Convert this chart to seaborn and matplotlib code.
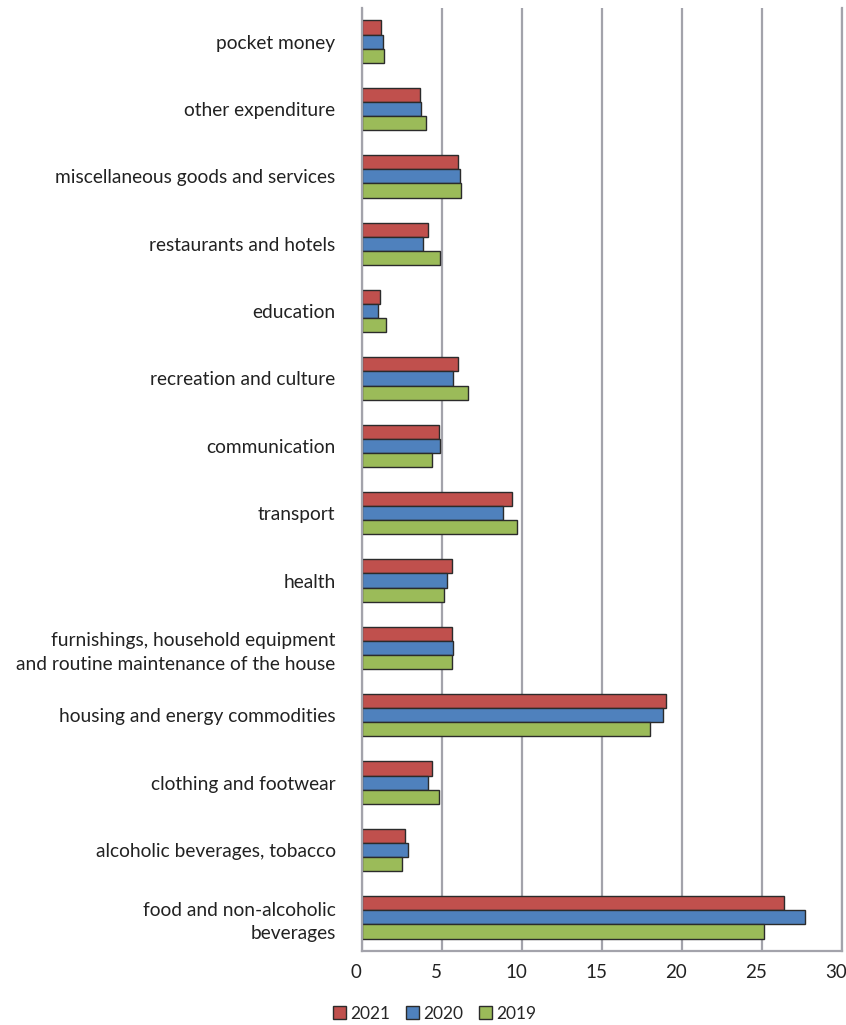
import matplotlib
matplotlib.use("Agg")
import matplotlib.pyplot as plt
import matplotlib.transforms as mtransforms
import seaborn as sns
import pandas as pd

categories = [
    "pocket money",
    "other expenditure",
    "miscellaneous goods and services",
    "restaurants and hotels",
    "education",
    "recreation and culture",
    "communication",
    "transport",
    "health",
    "furnishings, household equipment\nand routine maintenance of the house",
    "housing and energy commodities",
    "clothing and footwear",
    "alcoholic beverages, tobacco",
    "food and non-alcoholic\nbeverages",
]
years = ["2021", "2020", "2019"]
v2021 = [1.2, 3.6, 6.0, 4.1, 1.1, 6.0, 4.8, 9.4, 5.6, 5.6, 19.0, 4.4, 2.7, 26.4]
v2020 = [1.3, 3.7, 6.1, 3.8, 1.0, 5.7, 4.9, 8.8, 5.3, 5.7, 18.8, 4.1, 2.9, 27.7]
v2019 = [1.4, 4.0, 6.2, 4.9, 1.5, 6.6, 4.4, 9.7, 5.1, 5.6, 18.0, 4.8, 2.5, 25.1]
colors = ["#C0504D", "#4F81BD", "#9BBB59"]
xticks = [0, 5, 10, 15, 20, 25, 30]

rows = []
for yr, vals in zip(years, [v2021, v2020, v2019]):
    for c, v in zip(categories, vals):
        rows.append({"category": c, "year": yr, "value": v})
df = pd.DataFrame(rows)

sns.set_style("white")
plt.rcParams["font.family"] = ["Lato", "DejaVu Sans"]

fig = plt.figure(figsize=(8.46, 10.25), dpi=100)
ax = fig.add_axes([362 / 846, 1 - 951 / 1025, 480 / 846, 943 / 1025])

sns.barplot(data=df, x="value", y="category", hue="year", order=categories,
            hue_order=years, palette=colors, saturation=1, orient="h", width=0.63,
            edgecolor="#2b2b2b", linewidth=1.0, ax=ax, legend=True)

ax.set_xlim(0, 30)
ax.set_xticks(xticks)
ax.set_xticklabels([str(t) for t in xticks], fontsize=13.5, color="#222222")
ax.set_xlabel("")
ax.set_ylabel("")
ax.xaxis.grid(True, color="#a3a3ab", linewidth=1.6)
ax.yaxis.grid(False)
ax.set_axisbelow(True)
for s in ["left", "bottom", "right"]:
    ax.spines[s].set_visible(True)
    ax.spines[s].set_color("#a3a3ab")
    ax.spines[s].set_linewidth(1.6)
ax.spines["top"].set_visible(False)
ax.tick_params(axis="both", length=0)
ax.tick_params(axis="y", pad=19, labelsize=13.8, labelcolor="#222222")
ax.tick_params(axis="x", pad=9)
for lbl in ax.get_yticklabels():
    lbl.set_ha("right")
    lbl.set_multialignment("right")
    lbl.set_linespacing(1.45)
shift = mtransforms.ScaledTranslation(-6 / 100, 0, fig.dpi_scale_trans)
for lbl in ax.get_xticklabels():
    lbl.set_transform(lbl.get_transform() + shift)

handles, labels = ax.get_legend_handles_labels()
ax.get_legend().remove()
fig.legend(handles, labels, loc="lower center", bbox_to_anchor=(435 / 846, -0.012),
           ncol=3, frameon=False, fontsize=12.5, handlelength=0.75, handleheight=0.75,
           handletextpad=0.25, columnspacing=0.9)

fig.savefig("out.png", dpi=100)
